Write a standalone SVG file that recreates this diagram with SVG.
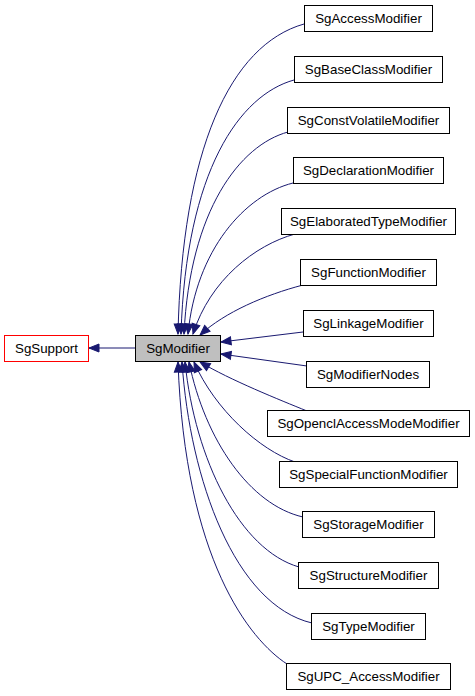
<svg xmlns="http://www.w3.org/2000/svg" width="475" height="696" viewBox="0 0 475 696">
<style>
  .n rect { fill: #ffffff; stroke: #000000; stroke-width: 1; }
  .n text { font-family: "Liberation Sans", Arial, sans-serif; font-size: 13.33px; text-anchor: middle; fill: #000000; }
  #connectors path { fill: none; stroke: #191970; stroke-width: 1; marker-end: url(#ah); }
</style>
<defs>
  <marker id="ah" markerUnits="userSpaceOnUse" viewBox="0 0 12 10" refX="11" refY="5" markerWidth="12" markerHeight="10" orient="auto" overflow="visible">
    <path d="M1,1 L11,5 L1,9 z" fill="#191970" stroke="#191970" stroke-width="1"/>
  </marker>
</defs>
<rect width="475" height="696" fill="#ffffff"/>
<g id="connectors">
  <path d="M136,348 L89,348"/>
  <path d="M304,24 C230,45 182,150 178,334"/>
  <path d="M294,80 C240,95 186,170 181,334"/>
  <path d="M288,132 C240,145 190,210 184,334"/>
  <path d="M293,183 C245,195 196,250 188,334"/>
  <path d="M295,234 C255,245 210,280 193,334"/>
  <path d="M303,285 C265,295 225,312 200,335"/>
  <path d="M303,332 L221,342"/>
  <path d="M307,366 L221,354"/>
  <path d="M307,411 C280,400 230,380 200,362"/>
  <path d="M295,462 C260,450 215,410 194,362"/>
  <path d="M303,517 C250,505 205,440 189,362"/>
  <path d="M299,567 C240,550 195,460 185,362"/>
  <path d="M312,623 C235,605 190,480 182,362"/>
  <path d="M287,664 C250,640 185,560 178,362"/>
</g>
<g id="SgSupport" class="n"><rect x="4.5" y="335.5" width="84" height="26" style="stroke:#ff0000"/><text x="46.5" y="353">SgSupport</text></g>
<g id="SgModifier" class="n"><rect x="135.5" y="335.5" width="85" height="26" style="fill:#bfbfbf"/><text x="178" y="353">SgModifier</text></g>
<g id="SgAccessModifier" class="n"><rect x="304.5" y="5.5" width="128" height="26"/><text x="368.5" y="23">SgAccessModifier</text></g>
<g id="SgBaseClassModifier" class="n"><rect x="294.5" y="56.5" width="148" height="26"/><text x="368.5" y="74">SgBaseClassModifier</text></g>
<g id="SgConstVolatileModifier" class="n"><rect x="287.5" y="107.5" width="162" height="26"/><text x="368.5" y="125">SgConstVolatileModifier</text></g>
<g id="SgDeclarationModifier" class="n"><rect x="293.5" y="157.5" width="150" height="26"/><text x="368.5" y="175">SgDeclarationModifier</text></g>
<g id="SgElaboratedTypeModifier" class="n"><rect x="281.5" y="208.5" width="174" height="26"/><text x="368.5" y="226">SgElaboratedTypeModifier</text></g>
<g id="SgFunctionModifier" class="n"><rect x="300.5" y="259.5" width="136" height="26"/><text x="368.5" y="277">SgFunctionModifier</text></g>
<g id="SgLinkageModifier" class="n"><rect x="303.5" y="310.5" width="130" height="26"/><text x="368.5" y="328">SgLinkageModifier</text></g>
<g id="SgModifierNodes" class="n"><rect x="306.5" y="361.5" width="123" height="26"/><text x="368" y="379">SgModifierNodes</text></g>
<g id="SgOpenclAccessModeModifier" class="n"><rect x="267.5" y="410.5" width="202" height="26"/><text x="368.5" y="428">SgOpenclAccessModeModifier</text></g>
<g id="SgSpecialFunctionModifier" class="n"><rect x="279.5" y="461.5" width="178" height="26"/><text x="368.5" y="479">SgSpecialFunctionModifier</text></g>
<g id="SgStorageModifier" class="n"><rect x="302.5" y="511.5" width="132" height="26"/><text x="368.5" y="529">SgStorageModifier</text></g>
<g id="SgStructureModifier" class="n"><rect x="298.5" y="562.5" width="140" height="26"/><text x="368.5" y="580">SgStructureModifier</text></g>
<g id="SgTypeModifier" class="n"><rect x="311.5" y="613.5" width="114" height="26"/><text x="368.5" y="631">SgTypeModifier</text></g>
<g id="SgUPC_AccessModifier" class="n"><rect x="286.5" y="663.5" width="164" height="26"/><text x="368.5" y="681">SgUPC_AccessModifier</text></g>
</svg>
